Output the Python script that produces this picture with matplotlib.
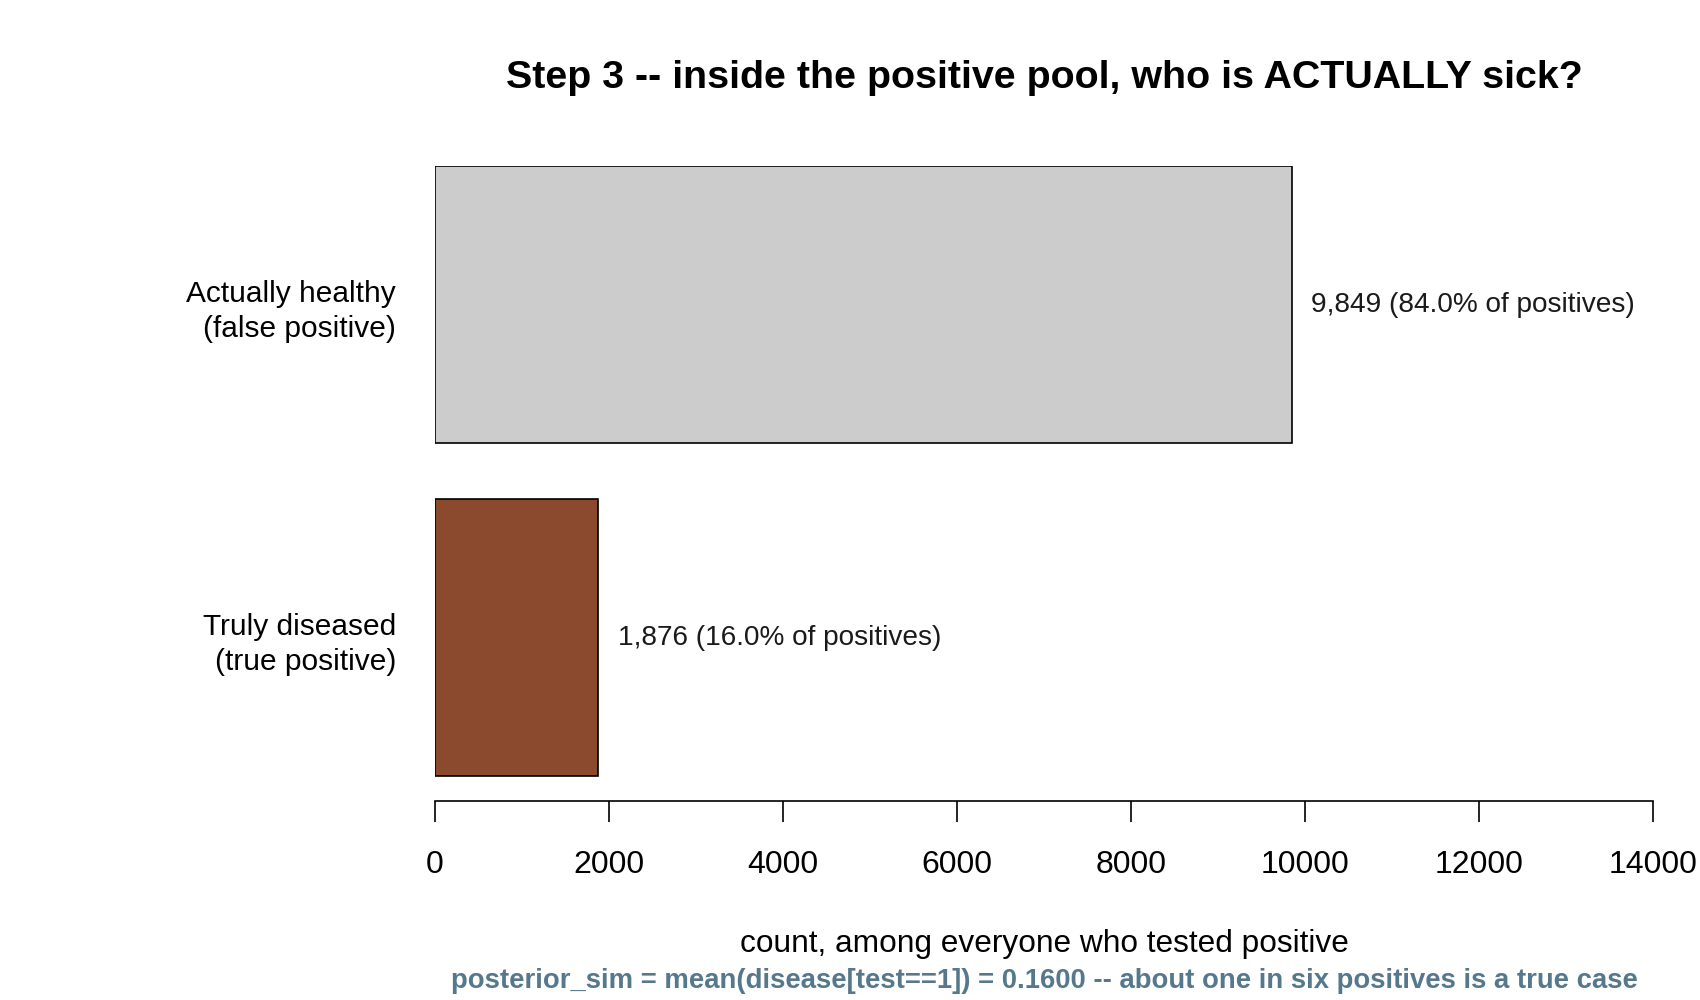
import matplotlib
matplotlib.use("Agg")
import matplotlib.pyplot as plt

plt.rcParams['font.family'] = ['Liberation Sans', 'DejaVu Sans']

# data
categories = ["Truly diseased\n(true positive)", "Actually healthy\n(false positive)"]
counts = [1876, 9849]
shares = [16.0, 84.0]
bar_colors = ["#8B4A2D", "#CCCCCC"]
xticks = [0, 2000, 4000, 6000, 8000, 10000, 12000, 14000]

title = "Step 3 -- inside the positive pool, who is ACTUALLY sick?"
xlab = "count, among everyone who tested positive"
subtitle = "posterior_sim = mean(disease[test==1]) = 0.1600 -- about one in six positives is a true case"

fig = plt.figure(figsize=(17, 10), dpi=100)
ax = fig.add_axes([435 / 1700, 1 - 801 / 1000, 1218 / 1700, (801 - 166) / 1000])

ypos = list(range(len(categories)))
ax.barh(ypos, counts, height=1 / 1.2, color=bar_colors, edgecolor="black", linewidth=1.2)

for y, c, s in zip(ypos, counts, shares):
    ax.annotate(f"{c:,} ({s:.1f}% of positives)", xy=(c, y), xytext=(14, 0),
                textcoords="offset points", va="center", ha="left", fontsize=20.2, color="#1a1a1a")

ax.set_xlim(0, 14000)
ax.set_ylim(-0.4163 - 0.0748, 1.4163)

for sp in ["top", "right", "left"]:
    ax.spines[sp].set_visible(False)
ax.spines["bottom"].set_bounds(0, 14000)
ax.spines["bottom"].set_linewidth(1.2)

ax.set_xticks(xticks)
ax.set_xticklabels([str(t) for t in xticks], fontsize=23)
ax.tick_params(axis="x", direction="out", length=15, width=1.2, pad=20)

ax.set_yticks(ypos)
ax.set_yticklabels(categories, fontsize=21.5, linespacing=1.35)
ax.tick_params(axis="y", length=0, pad=28)

cx = (435 + 1653) / 2 / 1700
fig.text(cx, 1 - 0.078, title, ha="center", va="center", fontsize=28.4, fontweight="bold")
fig.text(cx, 1 - 0.944, xlab, ha="center", va="center", fontsize=22.8)
fig.text(cx, 1 - 0.981, subtitle, ha="center", va="center", fontsize=19.8,
         fontweight="bold", color="#56788C")

fig.savefig("out.png", dpi=100, facecolor="white")
